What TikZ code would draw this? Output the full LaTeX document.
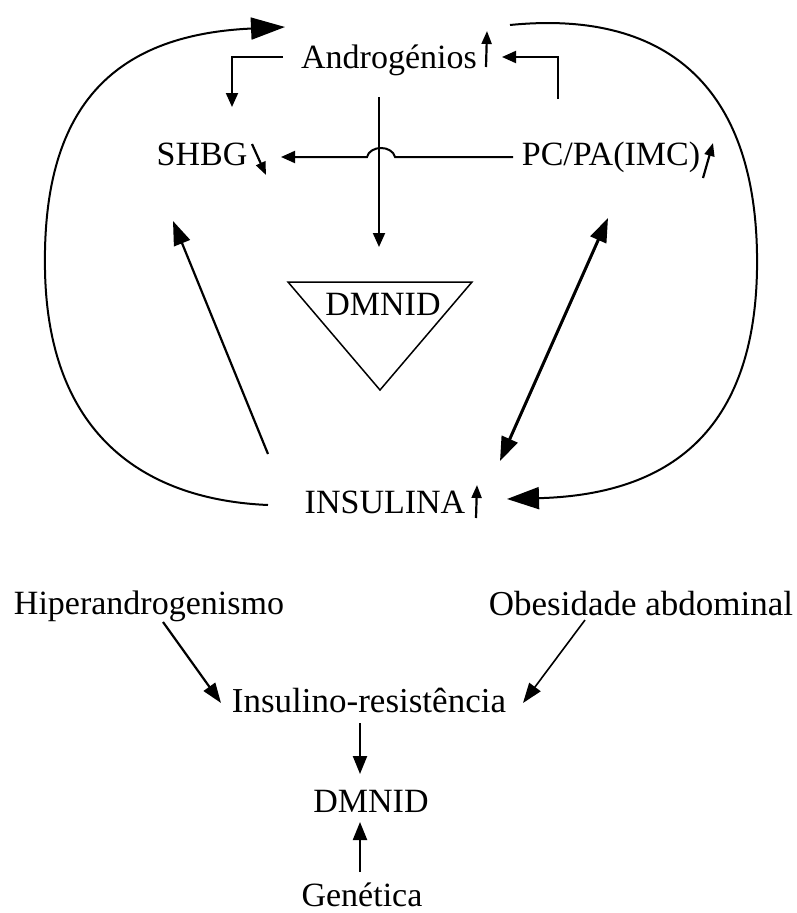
\documentclass[tikz,border=0pt]{standalone}
\usepackage{fontspec}
\setmainfont{Liberation Serif}
\usetikzlibrary{arrows.meta}
\begin{document}
\begin{tikzpicture}[x=1pt,y=-1pt,
  lbl/.style={font=\fontsize{34}{40}\selectfont, inner sep=0pt, anchor=base},
  ln/.style={line width=2pt},
  sm/.style={line width=2.2pt, -{Triangle[length=13pt,width=10pt]}},
  med/.style={line width=2pt, -{Triangle[length=14pt,width=12pt]}},
  big/.style={line width=2.2pt, -{Triangle[length=24pt,width=17pt]}},
  dbl/.style={line width=3pt, {Triangle[length=24pt,width=17pt]}-{Triangle[length=24pt,width=17pt]}}]
\useasboundingbox (0,0) rectangle (797,913);
% text nodes
\node[lbl] (andro) at (389,68) {Androgénios};
\node[lbl] (shbg) at (202,165) {SHBG};
\node[lbl] (pcpa) at (611,165) {PC/PA(IMC)};
\node[lbl] (dm1) at (383,315) {DMNID};
\node[lbl] (insul) at (385,513) {INSULINA};
\node[lbl] (hiper) at (149,614) {Hiperandrogenismo};
\node[lbl, font=\fontsize{35}{40}\selectfont] (obes) at (641,615) {Obesidade abdominal};
\node[lbl, font=\fontsize{35}{40}\selectfont] (ires) at (369,712) {Insulino-resistência};
\node[lbl] (dm2) at (371,812) {DMNID};
\node[lbl] (gen) at (362,906) {Genética};
% small trend arrows
\coordinate (a1) at (486,67); \coordinate (a2) at (487,31);
\draw[sm] (a1) -- (a2);
\coordinate (s1) at (252,144); \coordinate (s2) at (266,175);
\draw[sm] (s1) -- (s2);
\coordinate (p1) at (703,178); \coordinate (p2) at (713,143);
\draw[sm] (p1) -- (p2);
\coordinate (i1) at (476,518); \coordinate (i2) at (477,485);
\draw[sm] (i1) -- (i2);
% triangle
\coordinate (t1) at (288,282); \coordinate (t2) at (472,282); \coordinate (t3) at (380,390);
\draw[line width=1.5pt] (t1) -- (t2) -- (t3) -- cycle;
% androgens to SHBG
\coordinate (al) at (283,57); \coordinate (alc) at (232,57); \coordinate (ald) at (232,107);
\draw[ln, -{Triangle[length=14pt,width=12pt]}] (al) -- (alc) -- (ald);
% PC/PA to androgens
\coordinate (pr) at (558,99); \coordinate (prc) at (558,57); \coordinate (prl) at (502,57);
\draw[ln, -{Triangle[length=14pt,width=12pt]}] (pr) -- (prc) -- (prl);
% vertical androgens to DMNID
\coordinate (v1) at (379,97); \coordinate (v2) at (379,247);
\draw[med] (v1) -- (v2);
% horizontal PC/PA to SHBG with hop
\coordinate (h1) at (513,157); \coordinate (h2) at (281,157);
\draw[med] (h1) -- (395,157) .. controls (392,145) and (370,145) .. (367,157) -- (h2);
% insulin to SHBG
\coordinate (is1) at (268,454); \coordinate (is2) at (173,221);
\draw[big] (is1) -- (is2);
% double arrow
\coordinate (d1) at (608,218); \coordinate (d2) at (500,461);
\draw[dbl] (d1) -- (d2);
% left big curve
\coordinate (lc1) at (268,505); \coordinate (lc2) at (285,27);
\draw[line width=2pt, -{Triangle[length=34pt,width=22pt]}] (lc1) .. controls (150,500) and (48,440) .. (45,270) .. controls (42,110) and (110,35) .. (lc2);
% right big curve
\coordinate (rc1) at (510,25); \coordinate (rc2) at (507,499);
\draw[line width=2pt, -{Triangle[length=32pt,width=22pt]}] (rc1) .. controls (660,10) and (760,80) .. (757,270) .. controls (754,440) and (660,495) .. (rc2);
% bottom
\coordinate (b1) at (163,622); \coordinate (b2) at (221,703);
\draw[line width=2.2pt, -{Triangle[length=20pt,width=14pt]}] (b1) -- (b2);
\coordinate (b3) at (585,620); \coordinate (b4) at (523,703);
\draw[line width=1.6pt, -{Triangle[length=20pt,width=14pt]}] (b3) -- (b4);
\coordinate (b5) at (360,723); \coordinate (b6) at (360,774);
\draw[line width=2.2pt, -{Triangle[length=18pt,width=14pt]}] (b5) -- (b6);
\coordinate (b7) at (360,872); \coordinate (b8) at (360,822);
\draw[line width=2.2pt, -{Triangle[length=18pt,width=14pt]}] (b7) -- (b8);
\end{tikzpicture}
\end{document}
